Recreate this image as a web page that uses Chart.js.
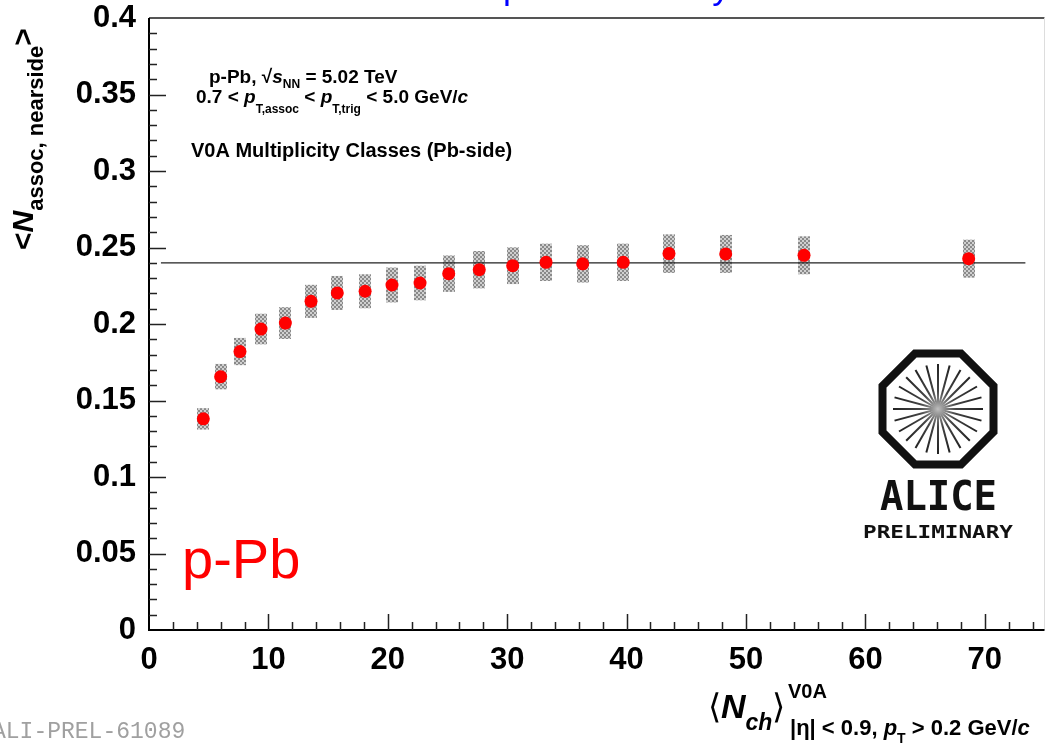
<!DOCTYPE html>
<html>
<head>
<meta charset="utf-8">
<script src="https://cdn.jsdelivr.net/npm/chart.js@4"></script>
<style>
  html, body { margin: 0; padding: 0; background: #fff; }
  canvas { display: block; }
</style>
</head>
<body>
<canvas id="grafico" width="1051" height="746"></canvas>
<script>
// values
const nch = [4.55, 6.0, 7.62, 9.38, 11.42, 13.57, 15.77, 18.1, 20.35, 22.7,
             25.1, 27.66, 30.46, 33.25, 36.32, 39.72, 43.55, 48.3, 54.86, 68.65];
const nassoc = [0.138, 0.1656, 0.182, 0.1967, 0.2006, 0.2148, 0.2203, 0.2214, 0.2255, 0.2268,
                0.2329, 0.2355, 0.2381, 0.2403, 0.2393, 0.2403, 0.246, 0.2458, 0.2449, 0.2427];
const sysErr = [0.0070, 0.0083, 0.0089, 0.0100, 0.0104, 0.0108, 0.0111, 0.0111, 0.0114, 0.0113,
                0.0119, 0.0122, 0.0120, 0.0122, 0.0122, 0.0122, 0.0126, 0.0124, 0.0124, 0.0124];
const refLineX = [1.0, 73.4];
const refLineY = [0.24, 0.24];

const SANS = '"Liberation Sans", Arial, Helvetica, sans-serif';

function fnt(size, bold, italic) {
  return (italic ? 'italic ' : '') + (bold ? 'bold ' : '') + size + 'px ' + SANS;
}

// draws pieces of text one after another: [text, size, dy, bold, italic]
function rich(ctx, x, y, parts, color) {
  ctx.fillStyle = color || '#000';
  ctx.textAlign = 'left';
  ctx.textBaseline = 'alphabetic';
  parts.forEach(p => {
    ctx.font = fnt(p[1], p[3], p[4]);
    ctx.fillText(p[0], x, y + (p[2] || 0));
    x += ctx.measureText(p[0]).width;
  });
  return x;
}

function hatch(ctx) {
  const c = document.createElement('canvas');
  c.width = 4; c.height = 4;
  const g = c.getContext('2d');
  g.fillStyle = '#d0d0d0';
  g.fillRect(0, 0, 4, 4);
  g.fillStyle = '#8a8a8a';
  g.fillRect(0, 0, 2, 2);
  g.fillRect(2, 2, 2, 2);
  return ctx.createPattern(c, 'repeat');
}

const decor = {
  id: 'decor',
  beforeDatasetsDraw(chart) {
    const { ctx, scales: { x, y } } = chart;
    ctx.save();
    ctx.fillStyle = hatch(ctx);
    nch.forEach((v, i) => {
      const px = x.getPixelForValue(v);
      const top = y.getPixelForValue(nassoc[i] + sysErr[i]);
      const bot = y.getPixelForValue(nassoc[i] - sysErr[i]);
      ctx.fillRect(Math.round(px - 6), top, 12, bot - top);
    });
    ctx.restore();
  },
  afterDraw(chart) {
    const { ctx, chartArea: a, scales: { x, y } } = chart;
    ctx.save();

    // frame
    ctx.strokeStyle = '#555';
    ctx.lineWidth = 2;
    ctx.beginPath(); ctx.moveTo(a.left, a.top); ctx.lineTo(a.right, a.top); ctx.stroke();
    ctx.strokeStyle = '#ddd';
    ctx.lineWidth = 1;
    ctx.beginPath(); ctx.moveTo(a.right, a.top); ctx.lineTo(a.right, a.bottom); ctx.stroke();
    ctx.strokeStyle = '#000';
    ctx.lineWidth = 2;
    ctx.beginPath();
    ctx.moveTo(a.left, a.top); ctx.lineTo(a.left, a.bottom); ctx.lineTo(a.right, a.bottom);
    ctx.stroke();

    // inward ticks
    ctx.lineWidth = 1.5;
    ctx.strokeStyle = '#222';
    ctx.beginPath();
    for (let k = 1; k < 40; k++) {
      const py = Math.round(y.getPixelForValue(k / 100)) + 0.5;
      const len = k % 5 === 0 ? 17 : 8;
      ctx.moveTo(a.left, py); ctx.lineTo(a.left + len, py);
    }
    for (let k = 2; k <= 74; k += 2) {
      const px = Math.round(x.getPixelForValue(k)) + 0.5;
      const len = k % 10 === 0 ? 16 : 8;
      ctx.moveTo(px, a.bottom); ctx.lineTo(px, a.bottom - len);
    }
    ctx.stroke();

    // partially hidden blue title
    ctx.fillStyle = '#0000ff';
    ctx.font = '35.5px ' + SANS;
    ctx.fillText('p-Pb centrality', 503, -1);

    // y axis title
    ctx.save();
    ctx.translate(33, 250);
    ctx.rotate(-Math.PI / 2);
    rich(ctx, 0, 0, [['<', 30, 0, true], ['N', 30, 0, true, true],
                     ['assoc, nearside', 22, 10, true], ['>', 30, 0, true]]);
    ctx.restore();

    // x axis title
    rich(ctx, 708, 718, [['\u27E8', 34, 0, false], ['N', 34, 0, true, true],
                         ['ch', 23, 12, true, true], ['\u27E9', 34, 0, false]]);
    rich(ctx, 788, 698, [['V0A', 20, 0, true]]);
    rich(ctx, 790, 735, [['|\u03B7| < 0.9, ', 22, 0, true], ['p', 22, 0, true, true],
                         ['T', 14, 8, true], [' > 0.2 GeV/', 22, 0, true], ['c', 22, 0, true, true]]);

    // annotations
    rich(ctx, 209, 83, [['p-Pb, ', 19, 0, true], ['\u221A', 19, 0, true], ['s', 19, 0, true, true],
                        ['NN', 12, 5, true], [' = 5.02 TeV', 19, 0, true]]);
    rich(ctx, 196, 103, [['0.7 < ', 19, 0, true], ['p', 19, 0, true, true], ['T,assoc', 12, 10, true],
                         [' < ', 19, 0, true], ['p', 19, 0, true, true], ['T,trig', 12, 10, true],
                         [' < 5.0 GeV/', 19, 0, true], ['c', 19, 0, true, true]]);
    rich(ctx, 191, 157, [['V0A Multiplicity Classes (Pb-side)', 20, 0, true]]);

    rich(ctx, 182, 578, [['p-Pb', 56, 0, false]], '#ff0000');

    ctx.fillStyle = '#a0a0a0';
    ctx.font = '23px "Liberation Mono", "Courier New", monospace';
    ctx.fillText('ALI-PREL-61089', -8, 738);

    // ALICE logo
    const cx = 938, cy = 409;
    ctx.strokeStyle = '#111';
    ctx.lineWidth = 8;
    ctx.beginPath();
    const R = 55.5 / Math.cos(Math.PI / 8);
    for (let k = 0; k < 8; k++) {
      const ang = Math.PI / 8 + k * Math.PI / 4;
      const vx = cx + R * Math.cos(ang), vy = cy + R * Math.sin(ang);
      if (k === 0) ctx.moveTo(vx, vy); else ctx.lineTo(vx, vy);
    }
    ctx.closePath();
    ctx.stroke();
    ctx.lineWidth = 2;
    for (let k = 0; k < 24; k++) {
      const ang = k * Math.PI / 12;
      const g = ctx.createLinearGradient(cx, cy, cx + 45 * Math.cos(ang), cy + 45 * Math.sin(ang));
      g.addColorStop(0, '#bbb');
      g.addColorStop(0.4, '#444');
      g.addColorStop(1, '#222');
      ctx.strokeStyle = g;
      ctx.beginPath();
      ctx.moveTo(cx, cy);
      ctx.lineTo(cx + 45 * Math.cos(ang), cy + 45 * Math.sin(ang));
      ctx.stroke();
    }
    function fitText(txt, left, base, width, size, weight) {
      ctx.save();
      ctx.font = weight + ' ' + size + 'px "DejaVu Sans Mono", monospace';
      const w = ctx.measureText(txt).width;
      ctx.translate(left, base);
      ctx.scale(width / w, 1);
      ctx.fillStyle = '#111';
      ctx.fillText(txt, 0, 0);
      ctx.restore();
    }
    fitText('ALICE', 880, 510, 117, 41, 'bold');
    fitText('PRELIMINARY', 863, 538, 150, 18, 'bold');

    ctx.restore();
  }
};

new Chart(document.getElementById('grafico'), {
  type: 'scatter',
  data: {
    datasets: [
      {
        label: 'p-Pb',
        data: nch.map((v, i) => ({ x: v, y: nassoc[i] })),
        backgroundColor: '#ff0000',
        borderWidth: 0,
        pointRadius: 6.5
      },
      {
        type: 'line',
        label: 'ref',
        data: refLineX.map((v, i) => ({ x: v, y: refLineY[i] })),
        borderColor: '#222',
        borderWidth: 1.2,
        pointRadius: 0,
        fill: false
      }
    ]
  },
  options: {
    responsive: false,
    animation: false,
    events: [],
    layout: { padding: { top: 18, right: 6, left: 0, bottom: 0 } },
    plugins: { legend: { display: false }, tooltip: { enabled: false } },
    scales: {
      x: {
        type: 'linear',
        min: 0,
        max: 75,
        grid: { display: false, drawTicks: false },
        border: { display: false },
        afterBuildTicks: s => { s.ticks = s.ticks.filter(t => t.value % 10 === 0); },
        afterFit: s => { s.height = 116; s.paddingLeft = 0; s.paddingRight = 0; },
        ticks: {
          stepSize: 10,
          padding: 12,
          maxRotation: 0,
          color: '#000',
          font: { family: SANS, size: 31, weight: 'bold' }
        }
      },
      y: {
        min: 0,
        max: 0.4,
        grid: { display: false, drawTicks: false },
        border: { display: false },
        afterFit: s => { s.width = 149; s.paddingTop = 0; s.paddingBottom = 0; },
        ticks: {
          stepSize: 0.05,
          padding: 13,
          color: '#000',
          font: { family: SANS, size: 31, weight: 'bold' },
          callback: v => String(Number(v.toFixed(2)))
        }
      }
    }
  },
  plugins: [decor]
});
</script>
</body>
</html>
